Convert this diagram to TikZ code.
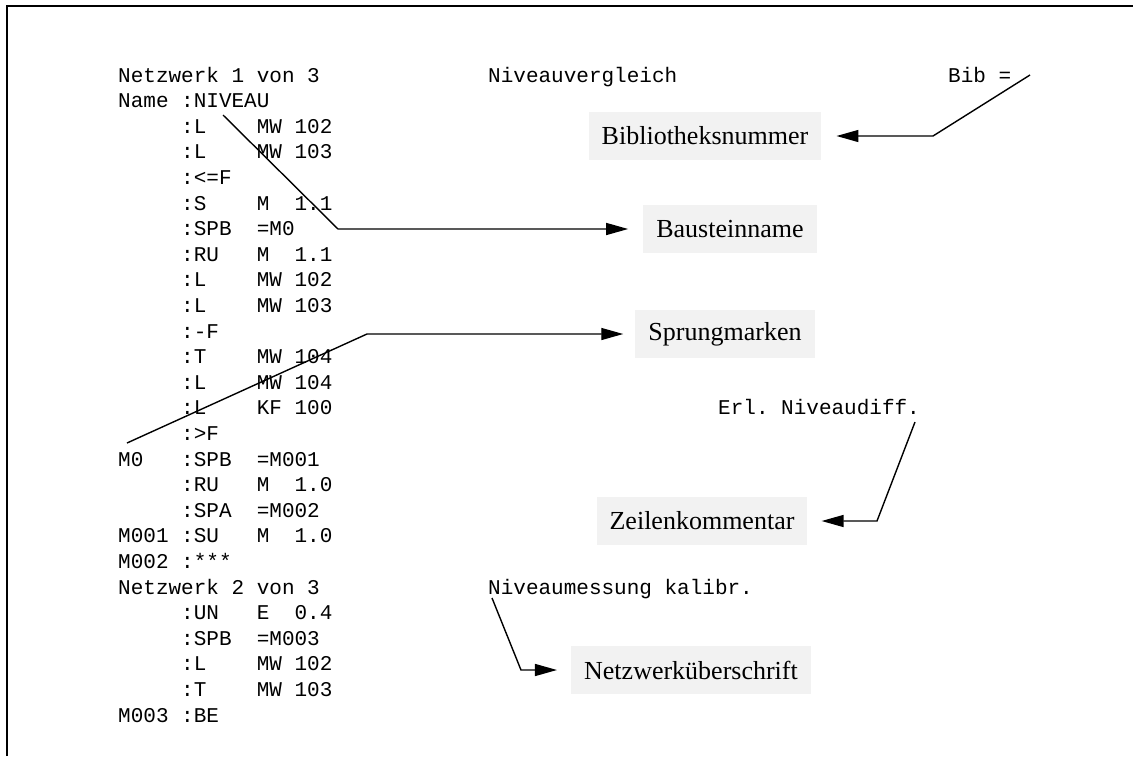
\documentclass[tikz,border=0pt]{standalone}
\usepackage{fontspec}
\setmainfont{Liberation Serif}
\setmonofont{Liberation Mono}
\usetikzlibrary{arrows.meta}
\definecolor{boxgray}{HTML}{F2F2F2}
\begin{document}
\frenchspacing
\begin{tikzpicture}[x=1pt,y=-1pt,
  code/.style={anchor=base west,inner sep=0pt,font=\ttfamily\fontsize{21}{25}\selectfont},
  label/.style={fill=boxgray,inner xsep=13pt,inner ysep=0pt,minimum height=48pt,
                font=\fontsize{26}{30}\selectfont},
  conn/.style={line width=1.4pt,-{Triangle[length=22pt,width=12pt]}}]
\useasboundingbox (0,0) rectangle (1133,756);
% frame
\draw[line width=2pt] (7,756) -- (7,6) -- (1133,6);

% program listing, one line every 25.6 units
\foreach \t [count=\n] in {
  Netzwerk 1 von 3,
  Name :NIVEAU,
  ~~~~~:L~~~~MW 102,
  ~~~~~:L~~~~MW 103,
  ~~~~~:<=F,
  ~~~~~:S~~~~M~~1.1,
  ~~~~~:SPB~~=M0,
  ~~~~~:RU~~~M~~1.1,
  ~~~~~:L~~~~MW 102,
  ~~~~~:L~~~~MW 103,
  ~~~~~:-F,
  ~~~~~:T~~~~MW 104,
  ~~~~~:L~~~~MW 104,
  ~~~~~:L~~~~KF 100,
  ~~~~~:>F,
  M0~~~:SPB~~=M001,
  ~~~~~:RU~~~M~~1.0,
  ~~~~~:SPA~~=M002,
  M001 :SU~~~M~~1.0,
  M002 :***,
  Netzwerk 2 von 3,
  ~~~~~:UN~~~E~~0.4,
  ~~~~~:SPB~~=M003,
  ~~~~~:L~~~~MW 102,
  ~~~~~:T~~~~MW 103,
  M003 :BE}
  \node[code] (line\n) at (118,{82+(\n-1)*25.6}) {\t};

% comments in the listing
\node[code] (title1) at (488,82) {Niveauvergleich};
\node[code] (bib) at (948,82) {Bib =};
\node[code] (erl) at (718,{82+13*25.6}) {Erl. Niveaudiff.};
\node[code] (title2) at (488,{82+20*25.6}) {Niveaumessung kalibr.};

% explanation labels
\node[label] (lbib) at (705,136) {Bibliotheksnummer};
\node[label] (lbaustein) at (730,229) {Bausteinname};
\node[label] (lsprung) at (725,334) {Sprungmarken};
\node[label] (lzeile) at (702,521) {Zeilenkommentar};
\node[label] (lnetz) at (691,670) {Netzwerküberschrift};

% connectors
\coordinate (cbib0) at (1030,75);
\coordinate (cbib1) at (933,136);
\draw[conn] (cbib0) -- (cbib1) -- ([xshift=15pt]lbib.east |- cbib1);

\coordinate (cbs0) at (223,115);
\coordinate (cbs1) at (338,229);
\draw[conn] (cbs0) -- (cbs1) -- ([xshift=-15pt]lbaustein.west |- cbs1);

\coordinate (csp0) at (127,443);
\coordinate (csp1) at (367,334);
\draw[conn] (csp0) -- (csp1) -- ([xshift=-12pt]lsprung.west |- csp1);

\coordinate (cze0) at (915,422);
\coordinate (cze1) at (877,521);
\draw[conn] (cze0) -- (cze1) -- ([xshift=14pt]lzeile.east |- cze1);

\coordinate (cnw0) at (492,598);
\coordinate (cnw1) at (521,670);
\draw[conn] (cnw0) -- (cnw1) -- ([xshift=-14pt]lnetz.west |- cnw1);
\end{tikzpicture}
\end{document}
